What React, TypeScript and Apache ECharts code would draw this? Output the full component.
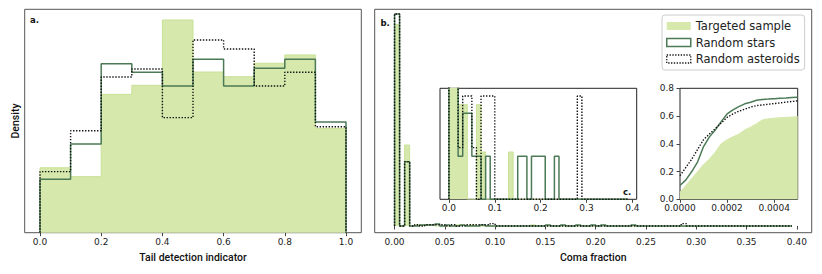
import React, { useEffect, useRef } from 'react';
import * as echarts from 'echarts';

// ---------- Panel a: tail detection indicator (density histograms) ----------
const tailEdges = [0, 0.1, 0.2, 0.3, 0.4, 0.5, 0.6, 0.7, 0.8, 0.9, 1.0];
const tailTargeted = [0.468, 0.404, 0.997, 1.062, 1.533, 1.158, 1.124, 1.221, 1.281, 0.752];
const tailStars = [0.385, 0.639, 1.218, 1.156, 1.057, 1.25, 1.057, 1.185, 1.25, 0.798];
const tailAsteroids = [0.44, 0.735, 1.122, 1.18, 0.829, 1.389, 1.324, 1.057, 1.156, 0.764];
const tailTicks = [0, 0.2, 0.4, 0.6, 0.8, 1.0];

// ---------- Panel b: coma fraction (density histograms, bin width 0.005) ----------
const comaBinWidth = 0.005;
const comaTargeted = [
  137, 0, 55, 0, 0.75, 0.75, 0.75, 0.75, 0, 0, 0, 0, 0.75, 0.75, 0, 0.75,
  0, 0, 0, 0, 0, 0, 0, 0, 0, 0, 0, 0.75,
  0, 0, 0, 0, 0, 0, 0, 0, 0, 0, 0, 0, 0, 0, 0, 0, 0, 0, 0, 0, 0, 0, 0,
  0, 0, 0, 0, 0, 0, 0, 0, 0, 0, 0, 0, 0, 0, 0, 0, 0, 0, 0, 0, 0, 0, 0, 0, 0, 0, 0, 0,
];
const comaStars = [
  144, 0, 43.7, 0, 0, 0.7, 0.7, 0.7, 1.4, 0, 0.7, 0, 0, 0.7, 0, 0, 0, 0.7,
  0, 0, 0, 0, 0, 0, 0, 0, 0, 0, 0, 0,
  0.7, 0, 0, 0.7, 0, 0, 0.7, 0, 0, 0.7, 0, 0.7,
  0, 0, 0, 0, 0, 0.7,
  0, 0, 0, 0, 0, 0, 0, 0, 0, 0, 0, 0, 0, 0, 0, 0, 0, 0, 0, 0, 0, 0, 0, 0, 0, 0, 0, 0, 0, 0, 0,
];
const comaAsteroids = [
  144, 0, 43.7, 0, 0.82, 0, 0.82, 0.82, 0.82, 0.82, 0, 0.82, 0, 0, 0.82, 0.82, 0.82, 0.82, 0.82, 1.64,
  0, 0, 0, 0, 0, 0, 0, 0, 0, 0, 0, 0, 0, 0, 0, 0, 0, 0, 0, 0, 0, 0, 0, 0, 0, 0, 0, 0, 0, 0, 0, 0, 0, 0, 0, 0, 0,
  1.64,
  0, 0, 0, 0, 0, 0, 0, 0, 0, 0, 0, 0, 0, 0, 0, 0, 0, 0, 0, 0, 0,
];
const comaTicks = [0, 0.05, 0.1, 0.15, 0.2, 0.25, 0.3, 0.35, 0.4];

// ---------- Inset c: coma fraction tail (bin width 0.01) ----------
const insetBinWidth = 0.01;
const insetTargeted = [10, 10, 2.2, 2.2, 0, 0, 2.2, 1.1, 0, 0, 0, 0, 0, 1.1,
  0, 0, 0, 0, 0, 0, 0, 0, 0, 0, 0, 0, 0, 0, 0, 0, 0, 0, 0, 0, 0, 0, 0, 0, 0];
const insetStars = [10, 10, 1, 2, 2, 1, 1, 0, 1, 0, 0, 0, 0, 0, 0, 1, 1, 0, 1, 1, 1, 0, 0, 1,
  0, 0, 0, 0, 0, 0, 0, 0, 0, 0, 0, 0, 0, 0, 0];
const insetAsteroids = [10, 10, 1.2, 2.4, 2.4, 1.2, 0, 2.4, 2.4, 2.4,
  0, 0, 0, 0, 0, 0, 0, 0, 0, 0, 0, 0, 0, 0, 0, 0, 0, 0,
  2.4,
  0, 0, 0, 0, 0, 0, 0, 0, 0, 0];
const insetCTicks = [0, 0.1, 0.2, 0.3, 0.4];

// ---------- Inset d: cumulative fraction at small coma fraction ----------
const cdfX = [0, 0.000025, 0.00005, 0.000075, 0.0001, 0.000125, 0.00015, 0.000175, 0.0002,
  0.000225, 0.00025, 0.000275, 0.0003, 0.000325, 0.00035, 0.000375, 0.0004, 0.000425,
  0.00045, 0.000475, 0.0005];
const cdfTargeted = [0.05, 0.1, 0.15, 0.2, 0.25, 0.29, 0.34, 0.4, 0.43, 0.45, 0.47, 0.5, 0.52,
  0.545, 0.572, 0.58, 0.585, 0.588, 0.59, 0.593, 0.595];
const cdfStars = [0.1, 0.14, 0.2, 0.27, 0.38, 0.45, 0.5, 0.56, 0.615, 0.645, 0.668, 0.688, 0.7,
  0.714, 0.72, 0.722, 0.725, 0.728, 0.73, 0.733, 0.735];
const cdfAsteroids = [0.17, 0.23, 0.29, 0.36, 0.43, 0.47, 0.51, 0.55, 0.59, 0.615, 0.635, 0.65,
  0.665, 0.675, 0.68, 0.685, 0.69, 0.695, 0.7, 0.705, 0.71];
const insetDXTicks = [0, 0.0002, 0.0004];
const insetDYTicks = [0, 0.2, 0.4, 0.6, 0.8];

const NAMES = ['Targeted sample', 'Random stars', 'Random asteroids'];
const GREEN_FILL = '#d6e8ab';
const GREEN_EDGE = '#c9e197';
const STAR_COLOR = '#4c7a56';
const AST_COLOR = '#111111';
const TICK_FONT = 'DejaVu Sans';
const LABEL_FONT = 'Roboto, sans-serif';

function edgesFrom(start: number, width: number, n: number) {
  const e: number[] = [];
  for (let i = 0; i <= n; i++) e.push(+(start + i * width).toFixed(6));
  return e;
}

function stepPoints(edges: number[], vals: number[]) {
  const pts: number[][] = [[edges[0], 0]];
  vals.forEach((v, i) => {
    pts.push([edges[i], v], [edges[i + 1], v]);
  });
  pts.push([edges[edges.length - 1], 0]);
  return pts;
}

function histSeries(idx: number, edges: number[], t: number[], s: number[], a: number[]) {
  return [
    {
      name: NAMES[0], type: 'line', xAxisIndex: idx, yAxisIndex: idx,
      data: stepPoints(edges, t), showSymbol: false, symbol: 'none', z: 2,
      lineStyle: { color: GREEN_EDGE, width: 1 },
      areaStyle: { color: GREEN_FILL, opacity: 1 },
      itemStyle: { color: GREEN_FILL },
    },
    {
      name: NAMES[1], type: 'line', xAxisIndex: idx, yAxisIndex: idx,
      data: stepPoints(edges, s), showSymbol: false, symbol: 'none', z: 3,
      lineStyle: { color: STAR_COLOR, width: 1.5 },
      itemStyle: { color: STAR_COLOR },
    },
    {
      name: NAMES[2], type: 'line', xAxisIndex: idx, yAxisIndex: idx,
      data: stepPoints(edges, a), showSymbol: false, symbol: 'none', z: 4,
      lineStyle: { color: AST_COLOR, width: 1.4, type: [1.4, 1.6] },
      itemStyle: { color: AST_COLOR },
    },
  ];
}

function xAxisCfg(grid: number, min: number, max: number, ticks: number[], digits: number, name?: string) {
  return {
    type: 'value', gridIndex: grid, min, max,
    splitLine: { show: false },
    axisLine: { show: false },
    axisTick: { show: true, customValues: ticks, length: 3.5, lineStyle: { color: '#444', width: 1 } },
    axisLabel: {
      customValues: ticks, formatter: (v: number) => v.toFixed(digits),
      fontSize: 9, color: '#222', margin: 5, fontFamily: TICK_FONT,
    },
    name: name || '', nameLocation: 'middle', nameGap: 19,
    nameTextStyle: { fontSize: 10.5, color: '#111', fontFamily: LABEL_FONT, fontWeight: 500 },
  };
}

export default function App() {
  const ref = useRef<HTMLDivElement>(null);
  useEffect(() => {
    document.body.style.margin = '0';
    if (!ref.current) return;
    const chart = echarts.init(ref.current, null, { renderer: 'svg' });

    const tailE = tailEdges;
    const comaE = edgesFrom(0, comaBinWidth, comaTargeted.length);
    const insetE = edgesFrom(0, insetBinWidth, insetTargeted.length);

    const option: any = {
      animation: false,
      textStyle: { fontFamily: TICK_FONT },
      grid: [
        { left: 24.7, top: 9.3, width: 336.6, height: 223.4, show: true, borderColor: '#555', borderWidth: 1, backgroundColor: '#fff', outerBoundsMode: 'none', containLabel: false },
        { left: 374.7, top: 9.3, width: 437, height: 223.4, show: true, borderColor: '#555', borderWidth: 1, backgroundColor: '#fff', outerBoundsMode: 'none', containLabel: false },
        { left: 440, top: 88.3, width: 196.7, height: 111, show: true, borderColor: '#222', borderWidth: 1, backgroundColor: '#fff', outerBoundsMode: 'none', containLabel: false },
        { left: 680, top: 88.3, width: 117.7, height: 111, show: true, borderColor: '#222', borderWidth: 1, backgroundColor: '#fff', outerBoundsMode: 'none', containLabel: false },
      ],
      xAxis: [
        xAxisCfg(0, -0.05, 1.05, tailTicks, 1, 'Tail detection indicator'),
        xAxisCfg(1, -0.01975, 0.41475, comaTicks, 2, 'Coma fraction'),
        { ...xAxisCfg(2, -0.0195, 0.4095, insetCTicks, 1), axisLabel: { customValues: insetCTicks, formatter: (v: number) => v.toFixed(1), fontSize: 9, color: '#222', margin: 4, fontFamily: TICK_FONT } },
        { ...xAxisCfg(3, 0, 0.0005, insetDXTicks, 4), axisLabel: { customValues: insetDXTicks, formatter: (v: number) => v.toFixed(4), fontSize: 9, color: '#222', margin: 4, fontFamily: TICK_FONT } },
      ],
      yAxis: [
        {
          type: 'value', gridIndex: 0, min: 0, max: 1.61,
          splitLine: { show: false }, axisLine: { show: false }, axisTick: { show: false }, axisLabel: { show: false },
          name: 'Density', nameLocation: 'middle', nameGap: 4, nameRotate: 90,
          nameTextStyle: { fontSize: 10.5, color: '#111', fontFamily: LABEL_FONT, fontWeight: 500 },
        },
        {
          type: 'value', gridIndex: 1, min: -4.55, max: 147.2,
          splitLine: { show: false }, axisLine: { show: false }, axisTick: { show: false }, axisLabel: { show: false },
        },
        {
          type: 'value', gridIndex: 2, min: 0, max: 2.58,
          splitLine: { show: false }, axisLine: { show: false }, axisTick: { show: false }, axisLabel: { show: false },
        },
        {
          type: 'value', gridIndex: 3, min: 0, max: 0.8,
          splitLine: { show: false }, axisLine: { show: false },
          axisTick: { show: true, customValues: insetDYTicks, length: 3.5, lineStyle: { color: '#444' } },
          axisLabel: { customValues: insetDYTicks, formatter: (v: number) => v.toFixed(1), fontSize: 9, color: '#222', margin: 6, fontFamily: TICK_FONT },
        },
      ],
      legend: {
        orient: 'vertical', left: 662, top: 15,
        padding: [4, 5, 4, 4], itemWidth: 24, itemHeight: 8, itemGap: 2.5,
        backgroundColor: '#fff', borderColor: '#cccccc', borderWidth: 1, borderRadius: 3,
        selectedMode: false,
        textStyle: { fontSize: 11.5, fontFamily: TICK_FONT, color: '#222', lineHeight: 14 },
        data: [
          { name: NAMES[0], icon: 'rect', itemStyle: { color: GREEN_FILL, borderWidth: 0 } },
          { name: NAMES[1], icon: 'rect', itemStyle: { color: '#ffffff', borderColor: STAR_COLOR, borderWidth: 1.5 } },
          { name: NAMES[2], icon: 'rect', itemStyle: { color: '#ffffff', borderColor: AST_COLOR, borderWidth: 1.3, borderType: [1.3, 1.5] } },
        ],
      },
      graphic: [
        { type: 'text', left: 30, top: 15.5, style: { text: 'a.', font: 'bold 8.5px DejaVu Sans', fill: '#111' } },
        { type: 'text', left: 380.5, top: 18, style: { text: 'b.', font: 'bold 8.5px DejaVu Sans', fill: '#111' } },
        { type: 'text', left: 623, top: 187, style: { text: 'c.', font: 'bold 8.5px DejaVu Sans', fill: '#111' } },
        { type: 'text', left: 786.5, top: 187, style: { text: 'd.', font: 'bold 8.5px DejaVu Sans', fill: '#111' } },
      ],
      series: [
        ...histSeries(0, tailE, tailTargeted, tailStars, tailAsteroids),
        ...histSeries(1, comaE, comaTargeted, comaStars, comaAsteroids),
        ...histSeries(2, insetE, insetTargeted, insetStars, insetAsteroids),
        {
          name: NAMES[0], type: 'line', xAxisIndex: 3, yAxisIndex: 3,
          data: cdfX.map((x, i) => [x, cdfTargeted[i]]), showSymbol: false, symbol: 'none', z: 2,
          lineStyle: { color: GREEN_FILL, width: 1 }, areaStyle: { color: GREEN_FILL, opacity: 1 },
        },
        {
          name: NAMES[1], type: 'line', xAxisIndex: 3, yAxisIndex: 3,
          data: cdfX.map((x, i) => [x, cdfStars[i]]), showSymbol: false, symbol: 'none', z: 3,
          lineStyle: { color: STAR_COLOR, width: 1.5 },
        },
        {
          name: NAMES[2], type: 'line', xAxisIndex: 3, yAxisIndex: 3,
          data: cdfX.map((x, i) => [x, cdfAsteroids[i]]), showSymbol: false, symbol: 'none', z: 4,
          lineStyle: { color: AST_COLOR, width: 1.4, type: [1.4, 1.6] },
        },
      ],
    };
    chart.setOption(option);
    return () => chart.dispose();
  }, []);
  return <div ref={ref} style={{ width: 822, height: 274 }} />;
}
